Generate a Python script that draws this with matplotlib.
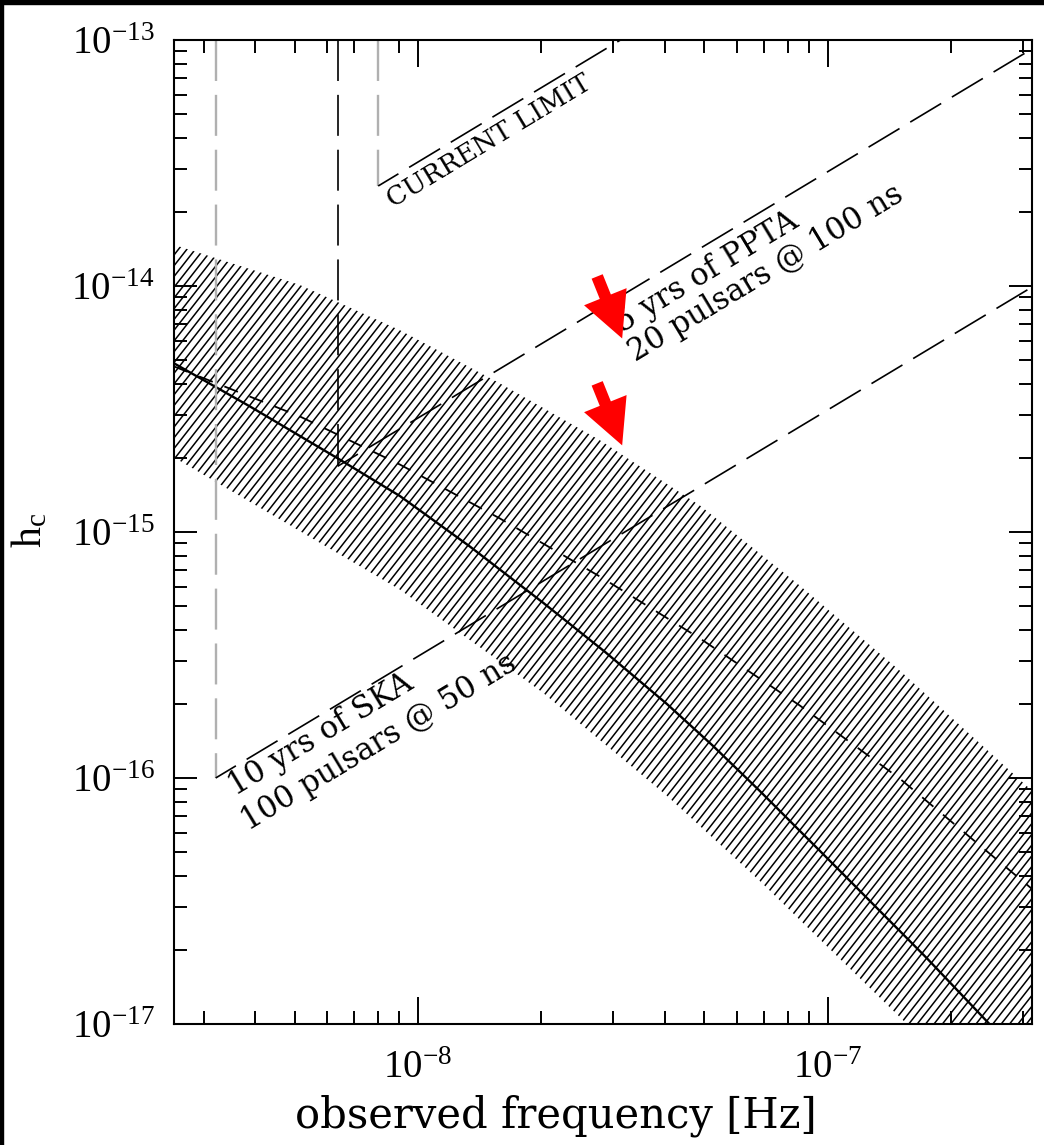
import numpy as np
import matplotlib
matplotlib.use("Agg")
import matplotlib.pyplot as plt
from matplotlib.collections import LineCollection
from matplotlib.patches import Polygon, Rectangle
from matplotlib.ticker import LogLocator, NullFormatter

plt.rcParams["font.family"] = "DejaVu Serif"
plt.rcParams["lines.scale_dashes"] = False

# background strain curves (frequency in Hz, h_c)
FREQ_SOLID = [2.54e-9, 3.89e-9, 6.38e-9, 9.04e-9, 1.339e-8, 2.02e-8, 2.858e-8, 4.05e-8,
              5.242e-8, 6.82e-8, 1.09e-7, 1.74e-7, 2.48e-7, 3.15e-7]
HC_SOLID = [4.85e-15, 3.24e-15, 1.99e-15, 1.40e-15, 8.73e-16, 5.16e-16, 3.26e-16, 2.0e-16,
            1.353e-16, 8.87e-17, 4.07e-17, 1.86e-17, 1.0e-17, 6.56e-18]

FREQ_DASHED = [2.54e-9, 5.15e-9, 9.04e-9, 1.585e-8, 2.78e-8, 4.88e-8, 8.55e-8, 1.50e-7, 3.15e-7]
HC_DASHED = [4.71e-15, 2.95e-15, 1.88e-15, 1.135e-15, 6.59e-16, 3.69e-16, 1.97e-16, 9.93e-17, 3.54e-17]

# hatched uncertainty band
FREQ_UPPER = [2.54e-9, 5.15e-9, 9.04e-9, 1.585e-8, 2.78e-8, 4.88e-8, 8.55e-8, 1.50e-7, 3.15e-7]
HC_UPPER = [1.47e-14, 1.01e-14, 6.61e-15, 4.02e-15, 2.36e-15, 1.28e-15, 6.05e-16, 2.73e-16, 8.87e-17]
FREQ_LOWER = [2.54e-9, 9.04e-9, 2.02e-8, 4.05e-8, 6.82e-8, 1.56e-7, 3.15e-7]
HC_LOWER = [2.01e-15, 5.83e-16, 2.22e-16, 8.47e-17, 3.82e-17, 1.0e-17, 3.04e-18]

# sensitivity limits: vertical at 1/T, then h_c rising with f
SENS_NAMES = ["CURRENT LIMIT", "PPTA", "SKA"]
SENS_FREQ_START = [8.0e-9, 6.37e-9, 3.21e-9]
SENS_HC_START = [2.55e-14, 1.85e-15, 1.0e-16]
SENS_FREQ_END = [3.12e-8, 3.15e-7, 3.15e-7]
SENS_HC_END = [1.0e-13, 9.2e-14, 9.9e-15]
SENS_VLINE_COLOR = ["#b0b0b0", "black", "#b0b0b0"]

Y_TICKS = [1e-17, 1e-16, 1e-15, 1e-14, 1e-13]
Y_TICK_LABELS = [r"$\mathdefault{10^{-17}}$", r"$\mathdefault{10^{-16}}$", r"$\mathdefault{10^{-15}}$",
                 r"$\mathdefault{10^{-14}}$", r"$\mathdefault{10^{-13}}$"]
X_TICKS = [1e-8, 1e-7]
X_TICK_LABELS = [r"$\mathdefault{10^{-8}}$", r"$\mathdefault{10^{-7}}$"]

XLIM = (2.54e-9, 3.15e-7)
YLIM = (1e-17, 1e-13)

# red arrow tips (the arrows point down-right onto the band)
ARROW_TIPS = [(3.15e-8, 6.12e-15), (3.15e-8, 2.25e-15)]

W_PX, H_PX = 1044, 1145
AX_RECT = [174 / W_PX, (H_PX - 1024) / H_PX, 858 / W_PX, 984 / H_PX]


def add_hatch(ax, patch, angle_deg=52.0, spacing_px=8.4):
    ax_w = AX_RECT[2] * W_PX
    ax_h = AX_RECT[3] * H_PX
    run = ax_h / np.tan(np.radians(angle_deg))
    starts = np.arange(-run, ax_w + spacing_px, spacing_px)
    segs = [[(c / ax_w, 0.0), ((c + run) / ax_w, 1.0)] for c in starts]
    lc = LineCollection(segs, colors="black", linewidths=1.1, transform=ax.transAxes)
    lc.set_clip_path(patch)
    ax.add_collection(lc)


def main() -> None:
    fig = plt.figure(figsize=(W_PX / 100, H_PX / 100), dpi=100)
    ax = fig.add_axes(AX_RECT)
    ax.set_xscale("log")
    ax.set_yscale("log")
    ax.set_xlim(*XLIM)
    ax.set_ylim(*YLIM)

    # band
    verts = list(zip(FREQ_UPPER, HC_UPPER)) + list(zip(FREQ_LOWER[::-1], HC_LOWER[::-1]))
    band = Polygon(verts, closed=True, facecolor="none", edgecolor="none")
    ax.add_patch(band)
    add_hatch(ax, band)

    ax.plot(FREQ_SOLID, HC_SOLID, color="black", lw=1.7)
    ax.plot(FREQ_DASHED, HC_DASHED, color="black", lw=1.3, dashes=(10.5, 9.0))

    for f0, h0, f1, h1, vcol in zip(SENS_FREQ_START, SENS_HC_START, SENS_FREQ_END,
                                    SENS_HC_END, SENS_VLINE_COLOR):
        vlw = 1.7 if vcol != "black" else 1.2
        ax.plot([f0, f0], [YLIM[1], h0], color=vcol, lw=vlw, dashes=(29.5, 10.0))
        ax.plot([f0, f1], [h0, h1], color="black", lw=1.2, linestyle=(9.0, (26.0, 9.0)))

    rot = 31.1
    kw = dict(rotation=rot, rotation_mode="anchor", ha="left", va="baseline")
    ax.text(8.69e-9, 2.07e-14, "CURRENT LIMIT", fontsize=19, **kw)
    ax.text(3.15e-8, 6.43e-15, "5 yrs of PPTA", fontsize=22, **kw)
    ax.text(3.40e-8, 4.90e-15, "20 pulsars @ 100 ns", fontsize=22, **kw)
    ax.text(3.58e-9, 8.47e-17, "10 yrs of SKA", fontsize=22, **kw)
    ax.text(3.85e-9, 6.1e-17, "100 pulsars @ 50 ns", fontsize=22, **kw)

    for tip in ARROW_TIPS:
        ax.annotate("", xy=tip, xycoords="data", xytext=(-25, 62), textcoords="offset pixels",
                    arrowprops=dict(arrowstyle="simple,head_length=3.24,head_width=3.3,tail_width=0.86",
                                    fc="red", ec="none", shrinkA=0, shrinkB=0, mutation_scale=10))

    # axes styling
    for sp in ax.spines.values():
        sp.set_linewidth(1.5)
    ax.xaxis.set_minor_locator(LogLocator(base=10, subs=np.arange(2, 10), numticks=20))
    ax.yaxis.set_minor_locator(LogLocator(base=10, subs=np.arange(2, 10), numticks=20))
    ax.xaxis.set_minor_formatter(NullFormatter())
    ax.yaxis.set_minor_formatter(NullFormatter())
    ax.set_xticks(X_TICKS)
    ax.set_xticklabels(X_TICK_LABELS, fontfamily="Liberation Serif", fontsize=28)
    ax.set_yticks(Y_TICKS)
    ax.set_yticklabels(Y_TICK_LABELS, fontfamily="Liberation Serif", fontsize=28)
    ax.tick_params(which="both", direction="in", top=True, right=True, width=1.4)
    ax.tick_params(axis="x", which="major", length=19.5, pad=19)
    ax.tick_params(axis="y", which="major", length=16.5, pad=14)
    ax.tick_params(which="minor", length=9.5)

    ax.set_xlabel("observed frequency [Hz]", fontsize=30)
    ax.xaxis.set_label_coords(0.445, -0.072)
    ax.set_ylabel(r"$\mathdefault{h_c}$", fontsize=30, fontfamily="Liberation Serif")
    ax.yaxis.set_label_coords(-0.1445, 0.502)

    # thin black frame at the top and left of the scan
    fig.add_artist(Rectangle((0, 1 - 4 / H_PX), 1, 4 / H_PX, transform=fig.transFigure,
                             color="black", zorder=10))
    fig.add_artist(Rectangle((0, 0), 3 / W_PX, 1, transform=fig.transFigure,
                             color="black", zorder=10))

    fig.savefig("out.png", dpi=100)
    plt.close(fig)


if __name__ == "__main__":
    main()
